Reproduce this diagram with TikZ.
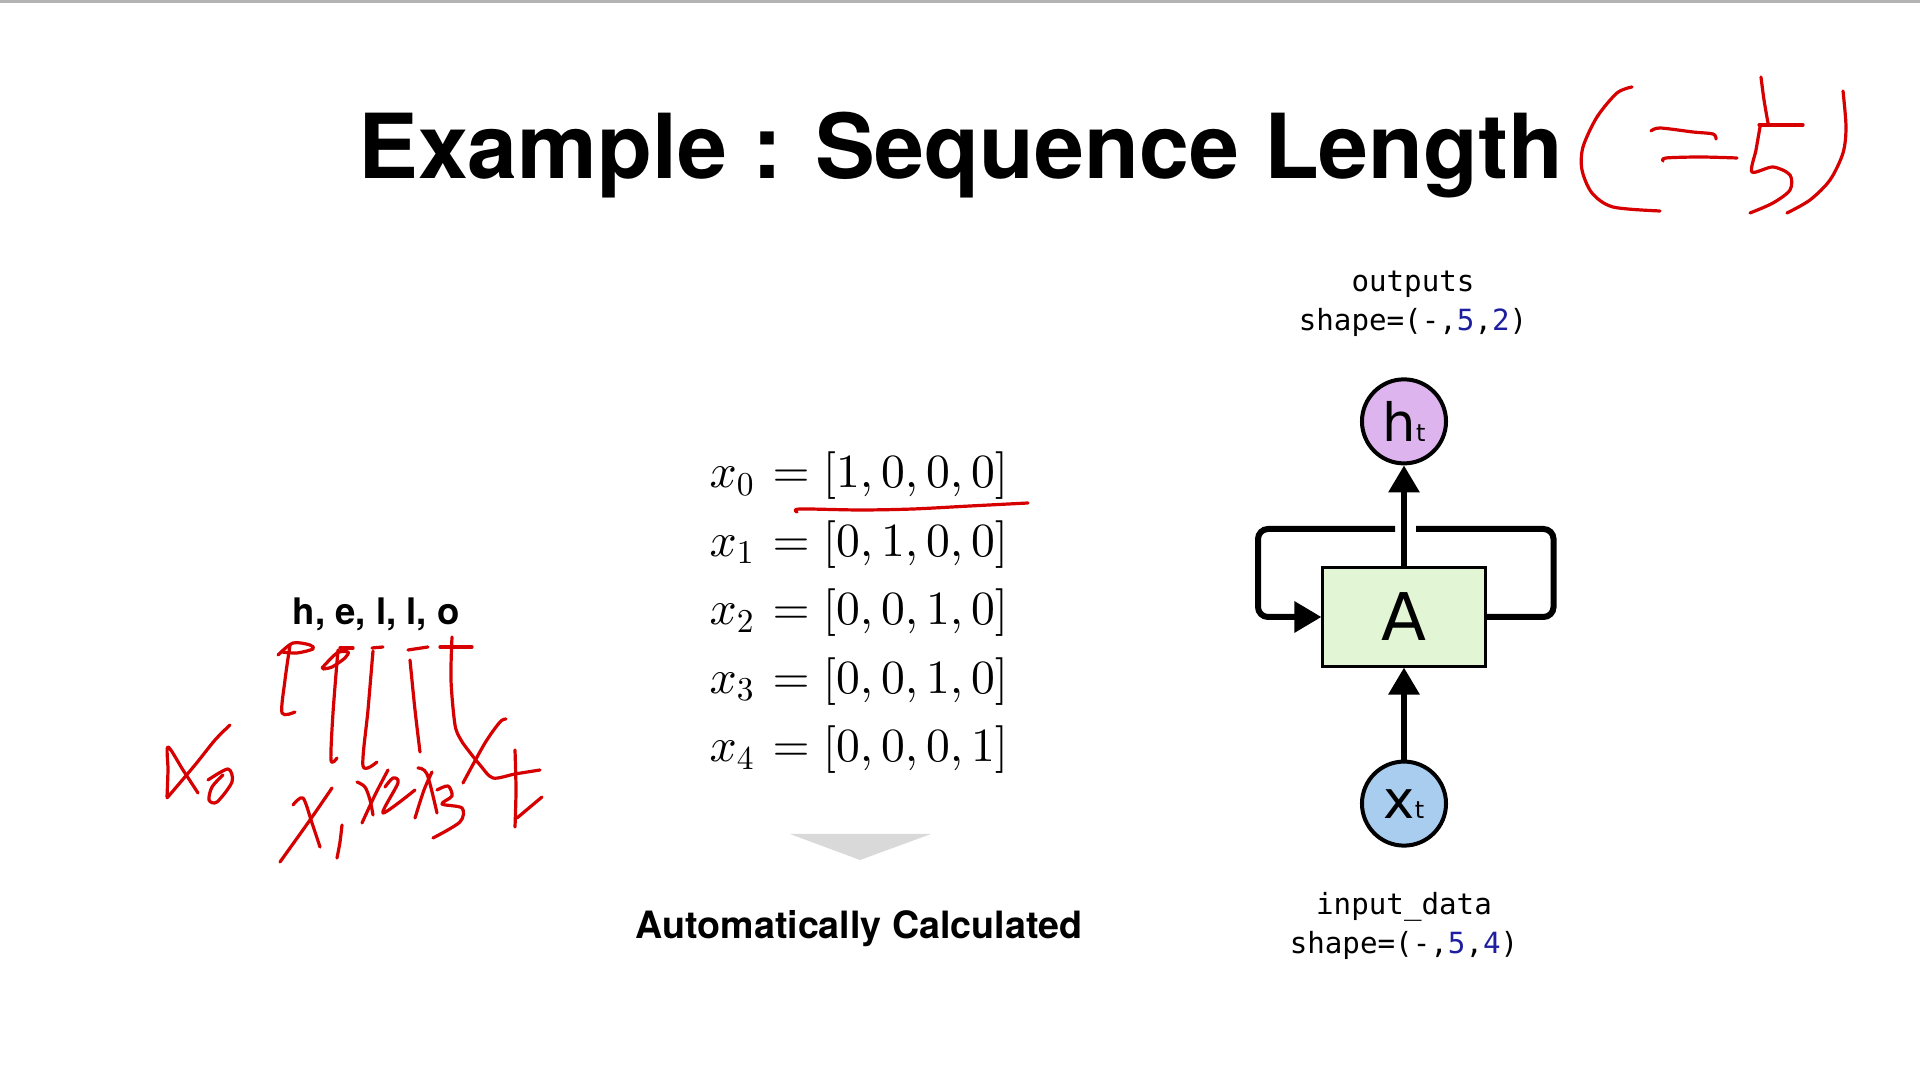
\documentclass[tikz,border=0pt]{standalone}
\usepackage{fix-cm}
\usepackage[no-math]{fontspec}
\setmainfont{TeX Gyre Heros}
\newfontfamily\cellfont{DejaVu Sans}
\newfontfamily\codefont{DejaVu Sans Mono}
\usepackage{xcolor}
\usetikzlibrary{arrows.meta,positioning}
\DeclareFontShape{OT1}{cmr}{m}{n}{<-8.5> cmr7 <8.5-> cmr10}{}
\DeclareFontShape{OML}{cmm}{m}{it}{<-8.5> cmmi7 <8.5-> cmmi10}{}
\definecolor{cellgreen}{HTML}{E2F5D4}
\definecolor{outpurple}{HTML}{DDB4EE}
\definecolor{inblue}{HTML}{A9CDEF}
\definecolor{numblue}{HTML}{1E1EA0}
\definecolor{inkred}{HTML}{D60000}
\definecolor{dropgray}{HTML}{D9D9D9}
\definecolor{rulegray}{HTML}{B4B4B4}
\tikzstyle{cell}=[rectangle, draw=black, line width=0.03cm, fill=cellgreen,
  minimum width=1.62cm, minimum height=0.98cm, inner sep=0pt,
  font=\cellfont\fontsize{18.7}{20}\selectfont]
\tikzstyle{unit}=[circle, draw=black, line width=0.04cm, minimum size=0.84cm,
  inner sep=0pt, font=\cellfont\fontsize{15}{16}\selectfont]
\tikzstyle{code}=[inner sep=0pt, anchor=base, font=\codefont\fontsize{8.3}{10}\selectfont]
\tikzstyle{eqn}=[inner sep=0pt, anchor=base west, font=\fontsize{13.55}{16}\selectfont]
\tikzstyle{caption}=[inner sep=0pt, font=\bfseries\fontsize{10.4}{12}\selectfont]
\tikzstyle{arrow}=[-{Triangle[length=0.27cm, width=0.3cm]}, line width=0.06cm]
\tikzstyle{ink}=[draw=inkred, line width=0.032cm, line cap=round, line join=round]
\newcommand{\shp}[2]{shape=(-,\textcolor{numblue}{#1},\textcolor{numblue}{#2})}
\newcommand{\sub}[1]{{\fontsize{6.8}{7}\selectfont #1}}

\begin{document}
\begin{tikzpicture}[x=0.01cm, y=-0.01cm]
\fill[white] (0,0) rectangle (1920,1080);
\useasboundingbox (0,0) rectangle (1920,1080);
\fill[rulegray] (0,0) rectangle (1920,3);

\node (title) [anchor=base west, inner sep=0pt, font=\bfseries\fontsize{25.5}{30}\selectfont] at (358,179) {Example : Sequence Length};

\node (letters) [caption, anchor=base west] at (292,625) {h, e, l, l, o};

\node (eq0) [eqn] at (709,488) {$x_0 \mkern1.5mu= [1,0,0,0]$};
\node (eq1) [eqn] at (709,556.5) {$x_1 \mkern1.5mu= [0,1,0,0]$};
\node (eq2) [eqn] at (709,625) {$x_2 \mkern1.5mu= [0,0,1,0]$};
\node (eq3) [eqn] at (709,693.5) {$x_3 \mkern1.5mu= [0,0,1,0]$};
\node (eq4) [eqn] at (709,762) {$x_4 \mkern1.5mu= [0,0,0,1]$};

\fill[dropgray] (790,834) -- (931,834) -- (860,860) -- cycle;
\node (auto) [caption, anchor=base, font=\bfseries\fontsize{10.7}{12}\selectfont] at (859,939) {Automatically Calculated};

\node (A) [cell] at (1404,617) {A};
\node (h) [unit, fill=outpurple, above=1.01cm of A] {h\sub{t}};
\node (x) [unit, fill=inblue, below=0.92cm of A] {x\sub{t}};
\node (outname) [code] at (1413,292) {outputs};
\node (outshape) [code] at (1413,331) {\shp{5}{2}};
\node (inname) [code] at (1404,915) {input\_data};
\node (inshape) [code] at (1404,954) {\shp{5}{4}};
\coordinate (gapL) at (1395,529);
\coordinate (gapR) at (1416,529);

\draw[arrow] (x) -- (A);
\draw[arrow] (A) -- (h);
\draw[line width=0.06cm, rounded corners=0.1cm] (A.east) -- ++(67,0) |- (gapR);
\draw[arrow, rounded corners=0.1cm] (gapL) -- ++(-137,0) |- (A.west);

\draw[ink] plot[smooth] coordinates {(1632,87) (1617,93) (1597,117) (1583,147) (1582,170) (1592,193) (1613,207) (1660,211)};
\draw[ink] plot[smooth] coordinates {(1651,131) (1660,128) (1693,132) (1713,134) (1716,139)};
\draw[ink] plot[smooth] coordinates {(1663,161) (1666,158) (1700,157) (1737,158)};
\draw[ink] plot[smooth] coordinates {(1761,77) (1764,100) (1768,123)};
\draw[ink] (1759,125) -- (1803,125);
\draw[ink] plot[smooth] coordinates {(1760,127) (1756,150) (1752,172) (1773,167) (1790,175) (1790,190) (1773,203) (1750,213)};
\draw[ink] plot[smooth] coordinates {(1843,91) (1846,127) (1843,153) (1830,180) (1810,200) (1787,213)};

\draw[ink] plot[smooth] coordinates {(797,512) (800,509) (860,510) (913,509) (970,506) (1028,503)};

\draw[ink] plot[smooth] coordinates {(278,655) (293,643) (310,645) (313,649) (297,653) (282,652)};
\draw[ink] plot[smooth] coordinates {(290,645) (285,680) (282,713) (295,712)};
\draw[ink] plot[smooth] coordinates {(322,668) (337,653) (348,652) (345,658) (332,667) (323,669)};
\draw[ink] plot[smooth] coordinates {(338,650) (333,713) (331,760) (337,758)};
\draw[ink] (340,648) -- (353,648);
\draw[ink] (372,648) -- (383,647);
\draw[ink] plot[smooth] coordinates {(373,651) (368,710) (363,766) (377,762)};
\draw[ink] (408,650) -- (428,647);
\draw[ink] plot[smooth] coordinates {(410,660) (415,710) (420,752)};
\draw[ink] (440,647) -- (472,647);
\draw[ink] plot[smooth] coordinates {(452,637) (451,680) (455,725) (461,740) (468,750) (480,765) (493,778) (515,774) (540,770)};
\draw[ink] plot[smooth] coordinates {(506,719) (500,722) (485,743) (463,783)};
\draw[ink] plot[smooth] coordinates {(515,750) (516,790) (515,827)};
\draw[ink] (542,797) -- (517,818);

\draw[ink] plot[smooth] coordinates {(167,797) (168,770) (168,747) (183,770) (198,793)};
\draw[ink] plot[smooth] coordinates {(230,725) (215,740) (195,765) (167,798)};
\draw[ink] plot[smooth] coordinates {(208,780) (228,769) (232,782) (217,802) (209,800) (212,787) (223,775)};
\draw[ink] plot[smooth] coordinates {(332,788) (310,820) (280,862)};
\draw[ink] plot[smooth] coordinates {(293,805) (303,798) (312,823) (320,847)};
\draw[ink] plot[smooth] coordinates {(342,825) (340,842) (337,858)};
\draw[ink] plot[smooth] coordinates {(357,782) (365,787) (370,800) (373,815)};
\draw[ink] plot[smooth] coordinates {(388,770) (375,795) (362,823)};
\draw[ink] plot[smooth] coordinates {(385,787) (393,778) (398,783) (383,813) (415,790)};
\draw[ink] plot[smooth] coordinates {(418,768) (427,774) (437,813)};
\draw[ink] plot[smooth] coordinates {(432,772) (424,790) (415,818)};
\draw[ink] plot[smooth] coordinates {(437,790) (448,786) (452,796) (442,804) (462,808) (460,822) (433,838)};
\end{tikzpicture}
\end{document}
